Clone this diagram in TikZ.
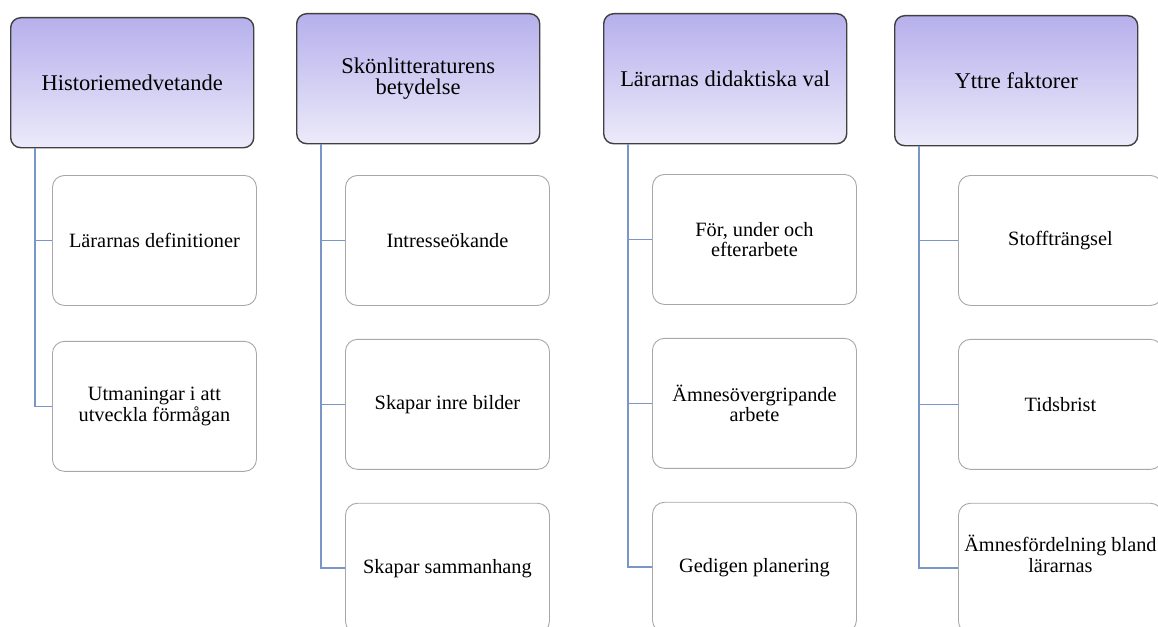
\documentclass[tikz,border=0pt]{standalone}
\usepackage{fontspec}
\setmainfont{Liberation Serif}
\usetikzlibrary{positioning}
\definecolor{hdrtop}{RGB}{182,176,236}
\definecolor{hdrbot}{RGB}{236,234,250}
\definecolor{hdrline}{RGB}{64,64,64}
\definecolor{boxline}{RGB}{168,168,168}
\definecolor{linkblue}{RGB}{122,150,200}
\tikzset{% boxes of the overview
	hdr/.style={draw=hdrline,line width=1.4pt,rounded corners=10pt,top color=hdrtop,bottom color=hdrbot,
		minimum width=243pt,minimum height=130pt,inner sep=0pt,align=center,anchor=north west,
		font=\fontsize{22.5}{21.5}\selectfont},
	sub/.style={draw=boxline,line width=0.9pt,rounded corners=12pt,fill=white,
		minimum width=204pt,minimum height=130pt,inner sep=0pt,align=center,
		font=\fontsize{20.3}{20.5}\selectfont},
	link/.style={draw=linkblue,line width=1.6pt}
}
\begin{document}
\begin{tikzpicture}[x=1pt,y=-1pt,node distance=33pt]
\clip (0,0) rectangle (1158,626);
\fill[white] (0,0) rectangle (1158,626);
% column 1
\node[hdr] (h1) at (10,17) {Historiemedvetande};
\node[sub,anchor=north west] (s11) at (52,175) {Lärarnas definitioner};
\node[sub,below=35pt of s11] (s12) {Utmaningar i att\\utveckla förmågan};
% column 2
\node[hdr] (h2) at (296,13) {Skönlitteraturens\\betydelse};
\node[sub,anchor=north west] (s21) at (345,175) {Intresseökande};
\node[sub,below=of s21] (s22) {Skapar inre bilder};
\node[sub,below=of s22] (s23) {Skapar sammanhang};
% column 3
\node[hdr] (h3) at (603,13) {Lärarnas didaktiska val};
\node[sub,anchor=north west] (s31) at (652,174) {För, under och\\efterarbete};
\node[sub,below=of s31] (s32) {Ämnesövergripande\\arbete};
\node[sub,below=of s32] (s33) {Gedigen planering};
% column 4
\node[hdr] (h4) at (894,15) {Yttre faktorer};
\node[sub,anchor=north west] (s41) at (958,175) {Stoffträngsel};
\node[sub,below=of s41] (s42) {Tidsbrist};
\node[sub,below=of s42] (s43) {\raisebox{6pt}[0pt][0pt]{\begin{tabular}{@{}c@{}}Ämnesfördelning bland\\lärarnas\end{tabular}}};
% connectors
\coordinate (t1) at ([xshift=25pt]h1.south west);
\coordinate (t2) at ([xshift=25pt]h2.south west);
\coordinate (t3) at ([xshift=25pt]h3.south west);
\coordinate (t4) at ([xshift=25pt]h4.south west);
\draw[link] (t1) |- (s12.west);
\draw[link] (t1 |- s11.west) -- (s11.west);
\draw[link] (t2) |- (s23.west);
\draw[link] (t2 |- s21.west) -- (s21.west);
\draw[link] (t2 |- s22.west) -- (s22.west);
\draw[link] (t3) |- (s33.west);
\draw[link] (t3 |- s31.west) -- (s31.west);
\draw[link] (t3 |- s32.west) -- (s32.west);
\draw[link] (t4) |- (s43.west);
\draw[link] (t4 |- s41.west) -- (s41.west);
\draw[link] (t4 |- s42.west) -- (s42.west);
\end{tikzpicture}
\end{document}
